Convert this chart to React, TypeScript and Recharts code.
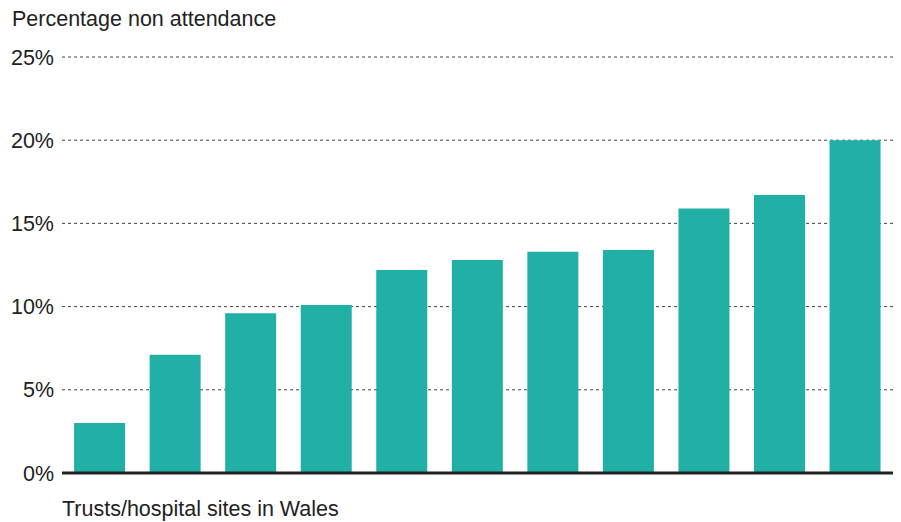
import React from 'react';
import { BarChart, Bar, XAxis, YAxis, CartesianGrid } from 'recharts';

const sites = ['Site 1', 'Site 2', 'Site 3', 'Site 4', 'Site 5', 'Site 6', 'Site 7', 'Site 8', 'Site 9', 'Site 10', 'Site 11'];
const nonAttendance = [3.0, 7.1, 9.6, 10.1, 12.2, 12.8, 13.3, 13.4, 15.9, 16.7, 20.0];
const yTicks = [0, 5, 10, 15, 20, 25];

const data = sites.map((name, i) => ({ name, value: nonAttendance[i] }));

const font = '"Liberation Sans", Arial, Helvetica, sans-serif';

const App: React.FC = () => {
    return (
        <div style={{ position: 'absolute', left: 0, top: 0, width: 901, height: 522, background: '#fff', fontFamily: font }}>
            <div style={{ position: 'absolute', left: 12, top: 7, fontSize: 21.5, color: '#222' }}>
                Percentage non attendance
            </div>
            <BarChart
                width={901}
                height={522}
                data={data}
                margin={{ top: 57, right: 8, bottom: 48, left: 0 }}
                barCategoryGap="16%"
            >
                <CartesianGrid horizontal vertical={false} strokeDasharray="3 3" stroke="#444" />
                <XAxis dataKey="name" tick={false} tickLine={false} height={1} axisLine={{ stroke: '#222', strokeWidth: 3 }} />
                <YAxis
                    width={62}
                    domain={[0, 25]}
                    ticks={yTicks}
                    tickFormatter={(v: number) => `${v}%`}
                    tick={{ fill: '#222', fontSize: 21.5, fontFamily: font }}
                    tickLine={false}
                    axisLine={false}
                    tickMargin={2}
                />
                <Bar dataKey="value" fill="#20b0a5" isAnimationActive={false} />
            </BarChart>
            <div style={{ position: 'absolute', left: 62, top: 497, fontSize: 21.5, color: '#222' }}>
                Trusts/hospital sites in Wales
            </div>
        </div>
    );
};

export default App;
